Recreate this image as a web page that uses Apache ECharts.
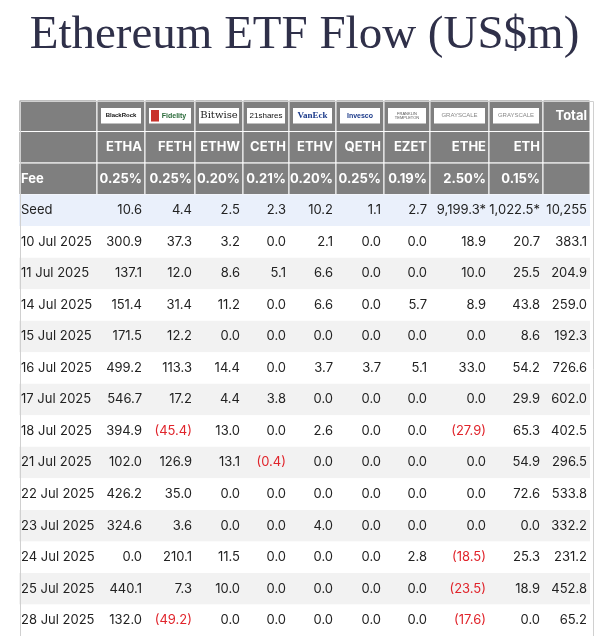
<!DOCTYPE html><html><head><meta charset="utf-8">
<script src="https://cdn.jsdelivr.net/npm/echarts@6/dist/echarts.min.js"></script>
<style>html,body{margin:0;padding:0;background:#fff}#c{width:609px;height:636px}</style></head><body><div id="c"></div>
<script>
const title = "Ethereum ETF Flow (US$m)";
const issuers = ["BlackRock","Fidelity","Bitwise","21shares","VanEck","Invesco","FRANKLIN TEMPLETON","GRAYSCALE","GRAYSCALE"];
const tickers = ["ETHA","FETH","ETHW","CETH","ETHV","QETH","EZET","ETHE","ETH"];
const fees = ["0.25%","0.25%","0.20%","0.21%","0.20%","0.25%","0.19%","2.50%","0.15%"];
const seed = ["10.6","4.4","2.5","2.3","10.2","1.1","2.7","9,199.3*","1,022.5*","10,255"];
const dates = ["10 Jul 2025","11 Jul 2025","14 Jul 2025","15 Jul 2025","16 Jul 2025","17 Jul 2025","18 Jul 2025","21 Jul 2025","22 Jul 2025","23 Jul 2025","24 Jul 2025","25 Jul 2025","28 Jul 2025"];
const flows = [
 [300.9,37.3,3.2,0.0,2.1,0.0,0.0,18.9,20.7,383.1],
 [137.1,12.0,8.6,5.1,6.6,0.0,0.0,10.0,25.5,204.9],
 [151.4,31.4,11.2,0.0,6.6,0.0,5.7,8.9,43.8,259.0],
 [171.5,12.2,0.0,0.0,0.0,0.0,0.0,0.0,8.6,192.3],
 [499.2,113.3,14.4,0.0,3.7,3.7,5.1,33.0,54.2,726.6],
 [546.7,17.2,4.4,3.8,0.0,0.0,0.0,0.0,29.9,602.0],
 [394.9,-45.4,13.0,0.0,2.6,0.0,0.0,-27.9,65.3,402.5],
 [102.0,126.9,13.1,-0.4,0.0,0.0,0.0,0.0,54.9,296.5],
 [426.2,35.0,0.0,0.0,0.0,0.0,0.0,0.0,72.6,533.8],
 [324.6,3.6,0.0,0.0,4.0,0.0,0.0,0.0,0.0,332.2],
 [0.0,210.1,11.5,0.0,0.0,0.0,2.8,-18.5,25.3,231.2],
 [440.1,7.3,10.0,0.0,0.0,0.0,0.0,-23.5,18.9,452.8],
 [132.0,-49.2,0.0,0.0,0.0,0.0,0.0,-17.6,0.0,65.2]
];

// layout
const edges = [0,78,126,176,224,270,317,365,411,470,524,571];
const rowNames = ["logo","ticker","fee","seed"].concat(dates);
const fmt = v => v < 0 ? "(" + Math.abs(v).toFixed(1) + ")" : v.toFixed(1);
const cells = [];
rowNames.forEach((r, ri) => {
  for (let ci = 0; ci < 11; ci++) {
    let text = "", kind = "hdr", neg = false;
    if (ri === 0) { kind = "logo"; text = ci === 0 ? "" : (ci === 10 ? "Total" : issuers[ci-1]); }
    else if (ri === 1) { text = (ci > 0 && ci < 10) ? tickers[ci-1] : ""; }
    else if (ri === 2) { text = ci === 0 ? "Fee" : (ci < 10 ? fees[ci-1] : ""); }
    else if (ri === 3) { kind = "seed"; text = ci === 0 ? "Seed" : seed[ci-1]; }
    else { kind = (ri % 2 === 0) ? "even" : "odd"; const v = flows[ri-4]; text = ci === 0 ? dates[ri-4] : fmt(v[ci-1]); neg = ci > 0 && v[ci-1] < 0; }
    cells.push({value:[ci, ri], text, kind, neg});
  }
});
const logoStyle = {
  "BlackRock":{font:'bold 6px Arial',color:'#111'},
  "Fidelity":{font:'bold 7px Arial',color:'#2a6b3a'},
  "Bitwise":{font:'10px "DejaVu Serif"',color:'#222'},
  "21shares":{font:'8px Arial',color:'#111'},
  "VanEck":{font:'bold 9px "Liberation Serif"',color:'#1b3a8a'},
  "Invesco":{font:'bold 7px Arial',color:'#1b3a8a'},
  "FRANKLIN TEMPLETON":{font:'4px Arial',color:'#555'},
  "GRAYSCALE":{font:'6px Arial',color:'#888'}
};
const chart = echarts.init(document.getElementById('c'));
chart.setOption({
  animation:false,
  title:{text:title,left:'center',top:7,textStyle:{fontFamily:'"Liberation Serif","DejaVu Serif",serif',fontSize:47,fontWeight:'normal',color:'#2f3049'}},
  grid:{left:19,top:100,width:571,height:542},
  xAxis:{type:'value',min:0,max:571,show:false},
  yAxis:{type:'category',data:rowNames,inverse:true,show:false},
  series:[{
    type:'custom',
    data:cells,
    renderItem:(params, api) => {
      const c = cells[params.dataIndex];
      const ci = c.value[0], ri = c.value[1];
      const p0 = api.coord([edges[ci], ri]);
      const p1 = api.coord([edges[ci+1], ri]);
      const h = api.size([0,1])[1];
      const x = p0[0], w = p1[0]-p0[0], y = p0[1]-h/2;
      const children = [];
      const hdr = (c.kind === 'hdr' || c.kind === 'logo');
      const bg = hdr ? '#7f7f7f' : c.kind === 'seed' ? '#eaf0fb' : c.kind === 'even' ? '#ffffff' : '#f2f2f2';
      children.push({type:'rect',shape:{x,y,width:w,height:h},style:{fill:bg,stroke:hdr?'#ffffff':null,lineWidth:hdr?1:0}});
      if (c.kind === 'logo' && ci > 0 && ci < 10) {
        const ls = logoStyle[c.text] || {font:'6px Arial',color:'#333'};
        children.push({type:'rect',shape:{x:x+4,y:y+8,width:w-8,height:h-16},style:{fill:'#fff'}});
        if (c.text === 'Fidelity') children.push({type:'rect',shape:{x:x+6,y:y+10,width:8,height:h-20},style:{fill:'#c8312a'}});
        children.push({type:'text',style:{text:c.text==='FRANKLIN TEMPLETON'?'FRANKLIN\nTEMPLETON':c.text,x:x+w/2+(c.text==='Fidelity'?4:0),y:y+h/2,align:'center',verticalAlign:'middle',font:ls.font,fill:ls.color}});
      } else if (c.text) {
        const bold = hdr;
        const left = ci === 0;
        children.push({type:'text',style:{text:c.text,x:left? x+2 : x+w-3,y:y+h/2,align:left?'left':'right',verticalAlign:'middle',
          font:(bold?'bold ':'')+'13px Inter, "Noto Sans", sans-serif',fill:hdr?'#ffffff':(c.neg?'#e0242b':'#222222')}});
      }
      return {type:'group',children};
    }
  }],
  graphic:[{type:'rect',left:18,top:99,shape:{width:573,height:545},style:{fill:null,stroke:'#d0d0d0',lineWidth:1},silent:true,z:100}]
});
</script></body></html>
